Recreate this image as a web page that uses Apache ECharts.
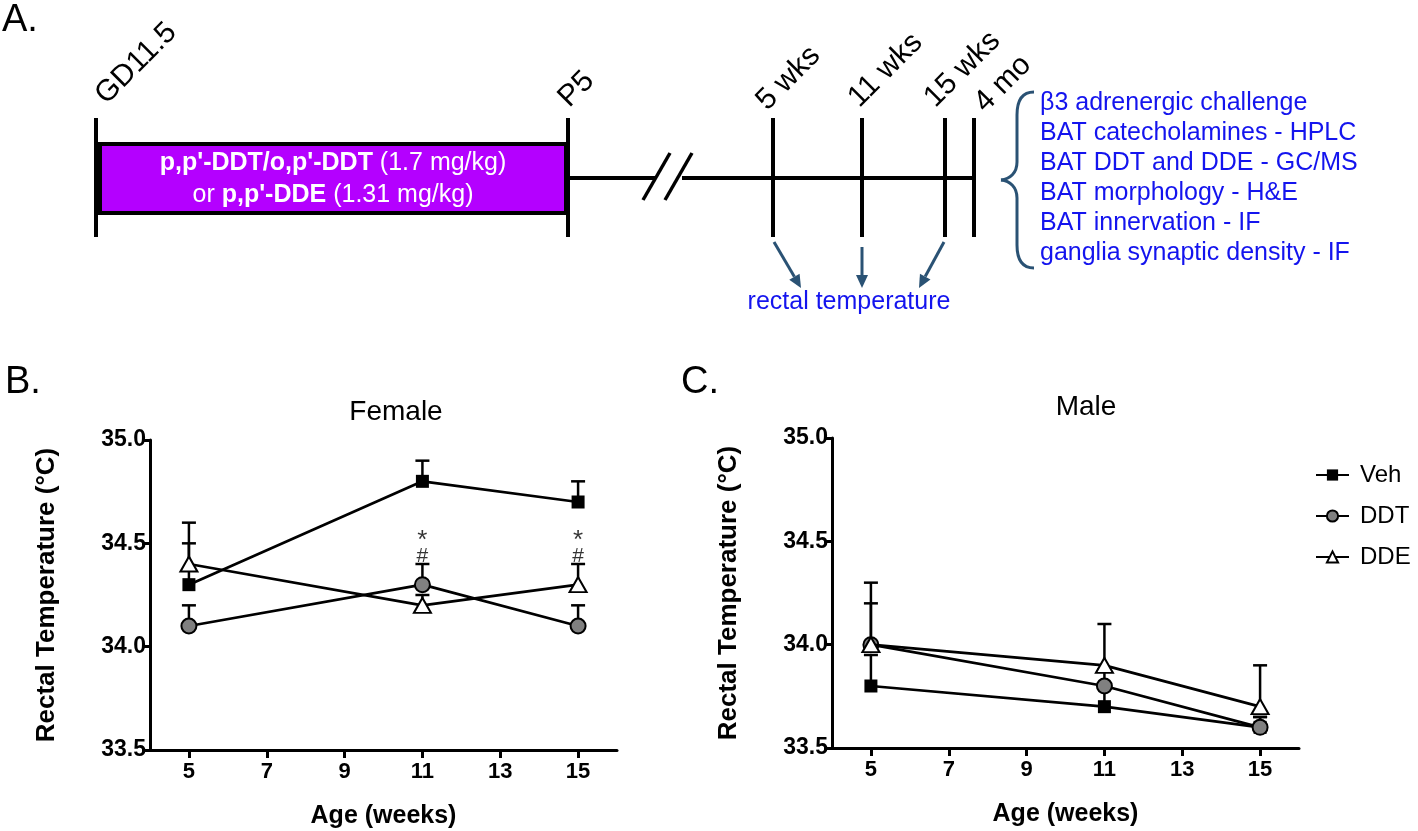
<!DOCTYPE html>
<html>
<head>
<meta charset="utf-8">
<script src="https://cdn.jsdelivr.net/npm/echarts@6/dist/echarts.min.js"></script>
<style>
  html, body { margin: 0; padding: 0; background: #fff; }
  #chart { width: 1418px; height: 831px; }
</style>
</head>
<body>
<div id="chart"></div>
<script>
// ---------------- DATA ----------------
const weeks = [5, 11, 15];
const xTicks = [5, 7, 9, 11, 13, 15];
const yTicks = [33.5, 34.0, 34.5, 35.0];
const seriesNames = ['Veh', 'DDT', 'DDE'];

const femaleVeh = [34.3, 34.8, 34.7];
const femaleVehSem = [0.2, 0.1, 0.1];
const femaleDDT = [34.1, 34.3, 34.1];
const femaleDDTSem = [0.1, 0.1, 0.1];
const femaleDDE = [34.4, 34.2, 34.3];
const femaleDDESem = [0.2, 0.05, 0.1];

const maleVeh = [33.8, 33.7, 33.6];
const maleVehSem = [0.15, 0.1, 0.05];
const maleDDT = [34.0, 33.8, 33.6];
const maleDDTSem = [0.2, 0.08, 0.05];
const maleDDE = [34.0, 33.9, 33.7];
const maleDDESem = [0.3, 0.2, 0.2];

const sigWeeks = [11, 15];
const starLevel = [34.51, 34.51];
const hashLevel = [34.44, 34.44];

const outcomes = [
  'β3 adrenergic challenge',
  'BAT catecholamines - HPLC',
  'BAT DDT and DDE - GC/MS',
  'BAT morphology - H&E',
  'BAT innervation - IF',
  'ganglia synaptic density - IF'
];
const timeLabels = ['5 wks', '11 wks', '15 wks', '4 mo'];

// ---------------- STYLE ----------------
const FONT = '"Liberation Sans", Arial, Helvetica, sans-serif';
const BLUE = '#1414EE';
const STEEL = '#2A5274';
const PURPLE = '#B400FF';

const symbolStyles = {
  Veh: { symbol: 'rect', size: 13, fill: '#000', border: 0 },
  DDT: { symbol: 'circle', size: 15, fill: '#808080', border: 2 },
  DDE: { symbol: 'triangle', size: [17, 15], fill: '#fff', border: 2 }
};

function errRender(params, api) {
  const x = api.value(0), top = api.value(1), base = api.value(2);
  const p0 = api.coord([x, base]);
  const p1 = api.coord([x, top]);
  const hw = 7;
  return {
    type: 'group',
    children: [
      { type: 'line', shape: { x1: p0[0], y1: p0[1], x2: p1[0], y2: p1[1] }, style: { stroke: '#000', lineWidth: 2.5 } },
      { type: 'line', shape: { x1: p1[0] - hw, y1: p1[1], x2: p1[0] + hw, y2: p1[1] }, style: { stroke: '#000', lineWidth: 2.5 } }
    ]
  };
}

function makeSeries(gi, name, means, sems) {
  const st = symbolStyles[name];
  return [
    {
      type: 'custom', name: name + '-err' + gi, xAxisIndex: gi, yAxisIndex: gi,
      renderItem: errRender, z: 1, silent: true,
      data: weeks.map((w, i) => [w, means[i] + sems[i], means[i]])
    },
    {
      type: 'line', name: name, xAxisIndex: gi, yAxisIndex: gi, z: 3 + seriesNames.indexOf(name),
      data: weeks.map((w, i) => [w, means[i]]),
      symbol: st.symbol, symbolSize: st.size, showSymbol: true,
      lineStyle: { color: '#000', width: 2.7 },
      itemStyle: { color: st.fill, borderColor: '#000', borderWidth: st.border },
      emphasis: { disabled: true }
    }
  ];
}

function xAxisDef(gi) {
  return {
    type: 'value', gridIndex: gi, min: 4, max: 16,
    name: 'Age (weeks)', nameLocation: 'middle', nameGap: 54,
    nameTextStyle: { fontFamily: FONT, fontWeight: 'bold', fontSize: 25, color: '#000' },
    axisLine: { show: true, lineStyle: { color: '#000', width: 3 } },
    axisTick: { show: true, length: 8, lineStyle: { color: '#000', width: 3 }, customValues: xTicks },
    axisLabel: { fontFamily: FONT, fontWeight: 'bold', fontSize: 22, color: '#000', margin: 11, customValues: xTicks },
    splitLine: { show: false }
  };
}
function yAxisDef(gi) {
  return {
    type: 'value', gridIndex: gi, min: yTicks[0], max: yTicks[yTicks.length - 1], interval: 0.5,
    name: 'Rectal Temperature (°C)', nameLocation: 'middle', nameGap: 90, nameRotate: 90,
    nameTextStyle: { fontFamily: FONT, fontWeight: 'bold', fontSize: 26, color: '#000' },
    axisLine: { show: true, lineStyle: { color: '#000', width: 3 } },
    axisTick: { show: true, length: 8, lineStyle: { color: '#000', width: 3 } },
    axisLabel: { fontFamily: FONT, fontWeight: 'bold', fontSize: 23, color: '#000', margin: 4,
      formatter: v => v.toFixed(1) },
    splitLine: { show: false }
  };
}

// ---------------- PANEL A (schematic) ----------------
function txt(x, y, text, size, color, opts) {
  opts = opts || {};
  return {
    type: 'text', x: x, y: y, rotation: opts.rotation || 0,
    style: {
      text: text, fill: color, fontSize: size, fontFamily: FONT, fontWeight: opts.weight || 'normal',
      align: opts.align || 'left', textAlign: opts.align || 'left',
      verticalAlign: opts.valign || 'middle', textVerticalAlign: opts.valign || 'middle'
    }
  };
}
function seg(x1, y1, x2, y2, color, w) {
  return { type: 'line', shape: { x1, y1, x2, y2 }, style: { stroke: color, lineWidth: w, lineCap: 'butt' } };
}
function curve(x1, y1, c1x, c1y, c2x, c2y, x2, y2, color, w) {
  return { type: 'bezierCurve', shape: { x1, y1, x2, y2, cpx1: c1x, cpy1: c1y, cpx2: c2x, cpy2: c2y },
    style: { stroke: color, lineWidth: w, fill: null } };
}
function arrow(x1, y1, x2, y2) {
  const dx = x2 - x1, dy = y2 - y1, L = Math.sqrt(dx * dx + dy * dy);
  const ux = dx / L, uy = dy / L, hl = 13, hw = 6;
  const bx = x2 - ux * hl, by = y2 - uy * hl;
  return [
    seg(x1, y1, bx, by, STEEL, 3),
    { type: 'polygon', shape: { points: [[x2, y2], [bx - uy * hw, by + ux * hw], [bx + uy * hw, by - ux * hw]] }, style: { fill: STEEL } }
  ];
}

const tickXs = [773, 862, 945, 974];
const tickLabelPos = [[772, 116], [864, 113], [940, 113], [990, 118]];
const A = [];
A.push(txt(2, 21, 'A.', 38, '#000'));
A.push(txt(5, 383, 'B.', 38, '#000'));
A.push(txt(681, 383, 'C.', 38, '#000'));

// treatment bar
A.push(seg(96, 118, 96, 237, '#000', 4));
A.push(seg(568, 118, 568, 237, '#000', 4));
A.push({ type: 'rect', shape: { x: 98, y: 144, width: 468, height: 69 }, style: { fill: PURPLE, stroke: '#000', lineWidth: 4 } });
A.push(seg(99, 144, 99, 213, '#000', 6));
A.push({
  type: 'text', x: 333, y: 179,
  style: {
    text: "{b|p,p'-DDT/o,p'-DDT} (1.7 mg/kg)\nor {b|p,p'-DDE} (1.31 mg/kg)",
    fill: '#fff', fontSize: 25, fontFamily: FONT, lineHeight: 32,
    align: 'center', textAlign: 'center', verticalAlign: 'middle', textVerticalAlign: 'middle',
    rich: { b: { fontWeight: 'bold', fontSize: 25, fontFamily: FONT, fill: '#fff' } }
  }
});
A.push(txt(111, 110, 'GD11.5', 30, '#000', { rotation: Math.PI / 4, valign: 'bottom' }));
A.push(txt(574, 113, 'P5', 30, '#000', { rotation: Math.PI / 4, valign: 'bottom' }));

// timeline
A.push(seg(568, 178, 656, 178, '#000', 4));
A.push(seg(643, 200, 670, 153, '#000', 3.5));
A.push(seg(665, 200, 692, 153, '#000', 3.5));
A.push(seg(682, 178, 976, 178, '#000', 4));
tickXs.forEach((x, i) => {
  A.push(seg(x, 118, x, 237, '#000', 4));
  A.push(txt(tickLabelPos[i][0], tickLabelPos[i][1], timeLabels[i], 30, '#000', { rotation: Math.PI / 4, valign: 'bottom' }));
});
arrow(774, 242, 801, 288).forEach(e => A.push(e));
arrow(862, 247, 862, 288).forEach(e => A.push(e));
arrow(944, 242, 919, 288).forEach(e => A.push(e));
A.push(txt(849, 302, 'rectal temperature', 25, BLUE, { align: 'center' }));

// brace
A.push(curve(1034, 92, 1022, 92, 1017, 100, 1017, 115, STEEL, 3));
A.push(seg(1017, 115, 1017, 162, STEEL, 3));
A.push(curve(1017, 162, 1017, 173, 1010, 179, 1001, 180, STEEL, 3));
A.push(curve(1001, 180, 1010, 181, 1017, 187, 1017, 198, STEEL, 3));
A.push(seg(1017, 198, 1017, 245, STEEL, 3));
A.push(curve(1017, 245, 1017, 260, 1022, 268, 1034, 268, STEEL, 3));
outcomes.forEach((t, i) => A.push(txt(1040, 103 + i * 30, t, 25, BLUE)));

// ---------------- CHART ----------------
const chart = echarts.init(document.getElementById('chart'), null, { renderer: 'canvas' });

const series = []
  .concat(makeSeries(0, 'Veh', femaleVeh, femaleVehSem))
  .concat(makeSeries(0, 'DDT', femaleDDT, femaleDDTSem))
  .concat(makeSeries(0, 'DDE', femaleDDE, femaleDDESem))
  .concat(makeSeries(1, 'Veh', maleVeh, maleVehSem))
  .concat(makeSeries(1, 'DDT', maleDDT, maleDDTSem))
  .concat(makeSeries(1, 'DDE', maleDDE, maleDDESem));

series.push({
  type: 'scatter', name: 'star', xAxisIndex: 0, yAxisIndex: 0, silent: true, z: 10,
  symbol: 'circle', symbolSize: 1, itemStyle: { color: 'rgba(0,0,0,0)' },
  data: sigWeeks.map((w, i) => [w, starLevel[i]]),
  label: { show: true, position: 'inside', formatter: '*', fontFamily: FONT, fontSize: 26, color: '#000' }
});
series.push({
  type: 'scatter', name: 'hash', xAxisIndex: 0, yAxisIndex: 0, silent: true, z: 10,
  symbol: 'circle', symbolSize: 1, itemStyle: { color: 'rgba(0,0,0,0)' },
  data: sigWeeks.map((w, i) => [w, hashLevel[i]]),
  label: { show: true, position: 'inside', formatter: '#', fontFamily: FONT, fontSize: 21, color: '#000' }
});

chart.setOption({
  animation: false,
  backgroundColor: '#fff',
  title: [
    { text: 'Female', left: 396, top: 398, textAlign: 'center', padding: 0,
      textStyle: { fontFamily: FONT, fontWeight: 'normal', fontSize: 28, color: '#000' } },
    { text: 'Male', left: 1086, top: 393, textAlign: 'center', padding: 0,
      textStyle: { fontFamily: FONT, fontWeight: 'normal', fontSize: 28, color: '#000' } }
  ],
  legend: {
    data: seriesNames, orient: 'vertical', left: 1310, top: 458,
    itemWidth: 33, itemHeight: 14, itemGap: 17, selectedMode: false,
    textStyle: { fontFamily: FONT, fontSize: 24, color: '#000', padding: [0, 0, 0, 6] }
  },
  grid: [
    { left: 150, right: 801, top: 440, bottom: 81, containLabel: false },
    { left: 832, right: 119, top: 438, bottom: 83, containLabel: false }
  ],
  xAxis: [xAxisDef(0), xAxisDef(1)],
  yAxis: [yAxisDef(0), yAxisDef(1)],
  graphic: A,
  series: series
});
</script>
</body>
</html>
